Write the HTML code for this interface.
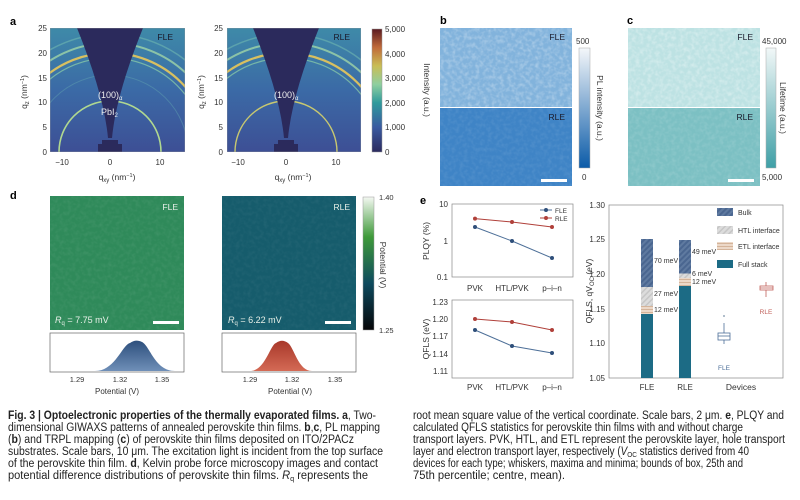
<!DOCTYPE html>
<html><head><meta charset="utf-8"><style>
html,body{margin:0;padding:0;background:#fff;}
svg{display:block;font-family:"Liberation Sans",sans-serif;}
</style></head><body>
<svg width="800" height="500" viewBox="0 0 800 500" xmlns="http://www.w3.org/2000/svg">
<defs>
<linearGradient id="gbg" x1="0" y1="1" x2="0" y2="0">
<stop offset="0" stop-color="#3d4f95"/><stop offset="0.5" stop-color="#3b6aa6"/><stop offset="1" stop-color="#3e8aa8"/>
</linearGradient>
<linearGradient id="cba" x1="0" y1="1" x2="0" y2="0">
<stop offset="0" stop-color="#2b2a5e"/><stop offset="0.2" stop-color="#3a5aa0"/><stop offset="0.4" stop-color="#2f9a9c"/><stop offset="0.55" stop-color="#8fcf9f"/><stop offset="0.7" stop-color="#c9bd55"/><stop offset="0.85" stop-color="#c06a3a"/><stop offset="1" stop-color="#5a1a20"/>
</linearGradient>
<linearGradient id="cbb" x1="0" y1="1" x2="0" y2="0"><stop offset="0" stop-color="#0b5ba8"/><stop offset="1" stop-color="#f4f7fa"/></linearGradient>
<linearGradient id="cbc" x1="0" y1="1" x2="0" y2="0"><stop offset="0" stop-color="#3f9fa6"/><stop offset="1" stop-color="#f2f8f8"/></linearGradient>
<linearGradient id="cbd" x1="0" y1="1" x2="0" y2="0"><stop offset="0" stop-color="#050608"/><stop offset="0.35" stop-color="#0e4a5e"/><stop offset="0.7" stop-color="#3f9a3a"/><stop offset="1" stop-color="#f4f8f2"/></linearGradient>
<linearGradient id="hb" x1="0" y1="0" x2="0" y2="1"><stop offset="0" stop-color="#2d4f7c"/><stop offset="1" stop-color="#6f8fb8"/></linearGradient>
<linearGradient id="hr" x1="0" y1="0" x2="0" y2="1"><stop offset="0" stop-color="#a8382a"/><stop offset="1" stop-color="#d46a55"/></linearGradient>
<pattern id="pBulk" width="4" height="4" patternUnits="userSpaceOnUse" patternTransform="rotate(45)"><rect width="4" height="4" fill="#5f7aa0"/><rect width="2" height="4" fill="#4a6690"/></pattern>
<pattern id="pHTL" width="4" height="4" patternUnits="userSpaceOnUse" patternTransform="rotate(45)"><rect width="4" height="4" fill="#dcdcdc"/><rect width="1.5" height="4" fill="#c6c6c6"/></pattern>
<pattern id="pETL" width="4" height="3" patternUnits="userSpaceOnUse"><rect width="4" height="3" fill="#ecd8c8"/><rect width="4" height="1" fill="#d4b49a"/></pattern>
<filter id="noise" x="0" y="0" width="100%" height="100%"><feTurbulence type="fractalNoise" baseFrequency="0.25" numOctaves="2" seed="3"/><feColorMatrix type="matrix" values="0 0 0 0 1  0 0 0 0 1  0 0 0 0 1  0 0 0 0.9 -0.35"/><feComposite in2="SourceGraphic" operator="in"/></filter>
<clipPath id="ca1"><rect x="50" y="28" width="135" height="124"/></clipPath>
<clipPath id="ca2"><rect x="227" y="28" width="134" height="124"/></clipPath>
</defs>

<!-- Panel a -->
<text x="10" y="25" font-size="11" font-weight="bold">a</text>
<g font-size="8" fill="#333">
<g clip-path="url(#ca1)">
<rect x="50" y="28" width="135" height="124" fill="url(#gbg)"/>
<g fill="none">
<ellipse cx="110" cy="152" rx="120" ry="118" stroke="#6fb8b0" stroke-width="1.5" opacity="0.6"/>
<ellipse cx="110" cy="152" rx="110" ry="109" stroke="#9fd4a8" stroke-width="2" opacity="0.8"/>
<ellipse cx="110" cy="152" rx="100" ry="99" stroke="#d8c060" stroke-width="2.2"/>
<ellipse cx="110" cy="152" rx="95" ry="94" stroke="#8fd0a8" stroke-width="1.2" opacity="0.7"/>
<ellipse cx="110" cy="152" rx="78" ry="77" stroke="#5fa0b0" stroke-width="1" opacity="0.5"/>
<ellipse cx="110" cy="152" rx="51" ry="51" stroke="#b0d890" stroke-width="1.6"/>
</g>
<path d="M77,28 Q104,95 108,138 L112,138 Q116,95 143,28 Z" fill="#2b2a5c"/>
<path d="M98,152 L98,144 L102,144 L102,140 L118,140 L118,144 L122,144 L122,152 Z" fill="#2b2a5c"/>
<rect x="50" y="28" width="135" height="124" fill="none" stroke="#999" stroke-width="0.6"/>
</g>
<text x="173" y="40" text-anchor="end" font-size="8.5" fill="#1a1a2a">FLE</text>
<text x="98" y="98" font-size="9" fill="#eee">(100)<tspan font-size="6" dy="2">α</tspan></text>
<text x="101" y="115" font-size="9" fill="#eee">PbI<tspan font-size="6" dy="2">2</tspan></text>
<g text-anchor="end">
<text x="47" y="31">25</text><text x="47" y="56">20</text><text x="47" y="81">15</text><text x="47" y="105">10</text><text x="47" y="130">5</text><text x="47" y="155">0</text>
</g>
<g text-anchor="middle">
<text x="62" y="165">−10</text><text x="110" y="165">0</text><text x="160" y="165">10</text>
<text x="117" y="180" font-size="8.5">q<tspan font-size="6" dy="2">xy</tspan><tspan dy="-2"> (nm</tspan><tspan font-size="5.5" dy="-3">−1</tspan><tspan dy="3">)</tspan></text>
</g>
<text transform="translate(27,92) rotate(-90)" text-anchor="middle" font-size="8.5">q<tspan font-size="6" dy="2">z</tspan><tspan dy="-2"> (nm</tspan><tspan font-size="5.5" dy="-3">−1</tspan><tspan dy="3">)</tspan></text>

<g clip-path="url(#ca2)">
<rect x="227" y="28" width="134" height="124" fill="url(#gbg)"/>
<g fill="none">
<ellipse cx="286" cy="152" rx="120" ry="118" stroke="#6fb8b0" stroke-width="1.5" opacity="0.6"/>
<ellipse cx="286" cy="152" rx="110" ry="109" stroke="#9fd4a8" stroke-width="2" opacity="0.8"/>
<ellipse cx="286" cy="152" rx="100" ry="99" stroke="#d8c060" stroke-width="2.2"/>
<ellipse cx="286" cy="152" rx="95" ry="94" stroke="#8fd0a8" stroke-width="1.2" opacity="0.7"/>
<ellipse cx="286" cy="152" rx="51" ry="51" stroke="#c8c870" stroke-width="1.4"/>
</g>
<path d="M253,28 Q280,95 284,138 L288,138 Q292,95 319,28 Z" fill="#2b2a5c"/>
<path d="M274,152 L274,144 L278,144 L278,140 L294,140 L294,144 L298,144 L298,152 Z" fill="#2b2a5c"/>
<rect x="227" y="28" width="134" height="124" fill="none" stroke="#999" stroke-width="0.6"/>
</g>
<text x="350" y="40" text-anchor="end" font-size="8.5" fill="#1a1a2a">RLE</text>
<text x="274" y="98" font-size="9" fill="#eee">(100)<tspan font-size="6" dy="2">α</tspan></text>
<g text-anchor="end">
<text x="223" y="31">25</text><text x="223" y="56">20</text><text x="223" y="81">15</text><text x="223" y="105">10</text><text x="223" y="130">5</text><text x="223" y="155">0</text>
</g>
<g text-anchor="middle">
<text x="238" y="165">−10</text><text x="286" y="165">0</text><text x="336" y="165">10</text>
<text x="293" y="180" font-size="8.5">q<tspan font-size="6" dy="2">xy</tspan><tspan dy="-2"> (nm</tspan><tspan font-size="5.5" dy="-3">−1</tspan><tspan dy="3">)</tspan></text>
</g>
<text transform="translate(204,92) rotate(-90)" text-anchor="middle" font-size="8.5">q<tspan font-size="6" dy="2">z</tspan><tspan dy="-2"> (nm</tspan><tspan font-size="5.5" dy="-3">−1</tspan><tspan dy="3">)</tspan></text>

<rect x="372" y="29" width="10" height="123" fill="url(#cba)" stroke="#999" stroke-width="0.5"/>
<text x="385" y="32">5,000</text><text x="385" y="57">4,000</text><text x="385" y="81">3,000</text><text x="385" y="106">2,000</text><text x="385" y="130">1,000</text><text x="385" y="155">0</text>
<text transform="translate(424,90) rotate(90)" text-anchor="middle" font-size="8.5">Intensity (a.u.)</text>
</g>

<!-- Panel b -->
<text x="440" y="24" font-size="11" font-weight="bold">b</text>
<rect x="440" y="28" width="132" height="79" fill="#82b3dc"/>
<rect x="440" y="28" width="132" height="79" fill="#82b3dc" filter="url(#noise)" opacity="0.7"/>
<rect x="440" y="108" width="132" height="78" fill="#3f84c6"/>
<rect x="440" y="108" width="132" height="78" fill="#3f84c6" filter="url(#noise)" opacity="0.2"/>
<text x="565" y="40" text-anchor="end" font-size="8.5" fill="#1a1a2a">FLE</text>
<text x="565" y="120" text-anchor="end" font-size="8.5" fill="#1a1a2a">RLE</text>
<rect x="541" y="179" width="26" height="3" fill="#fff"/>
<rect x="579" y="48" width="11" height="120" fill="url(#cbb)" stroke="#aaa" stroke-width="0.5"/>
<text x="576" y="44" font-size="8" fill="#333">500</text>
<text x="582" y="180" font-size="8" fill="#333">0</text>
<text transform="translate(597,108) rotate(90)" text-anchor="middle" font-size="8.5" fill="#333">PL intensity (a.u.)</text>

<!-- Panel c -->
<text x="627" y="24" font-size="11" font-weight="bold">c</text>
<rect x="628" y="28" width="132" height="79" fill="#bde2e3"/>
<rect x="628" y="28" width="132" height="79" fill="#bde2e3" filter="url(#noise)" opacity="0.8"/>
<rect x="628" y="108" width="132" height="78" fill="#7cc0c3"/>
<rect x="628" y="108" width="132" height="78" fill="#7cc0c3" filter="url(#noise)" opacity="0.3"/>
<text x="753" y="40" text-anchor="end" font-size="8.5" fill="#1a1a2a">FLE</text>
<text x="753" y="120" text-anchor="end" font-size="8.5" fill="#1a1a2a">RLE</text>
<rect x="728" y="179" width="26" height="3" fill="#fff"/>
<rect x="766" y="48" width="10" height="120" fill="url(#cbc)" stroke="#aaa" stroke-width="0.5"/>
<text x="762" y="44" font-size="8" fill="#333">45,000</text>
<text x="762" y="180" font-size="8" fill="#333">5,000</text>
<text transform="translate(780,108) rotate(90)" text-anchor="middle" font-size="8.5" fill="#333">Lifetime (a.u.)</text>

<!-- Panel d -->
<text x="10" y="199" font-size="11" font-weight="bold">d</text>
<rect x="50" y="196" width="134" height="134" fill="#2f8a5a"/>
<rect x="50" y="196" width="134" height="134" fill="#2f8a5a" filter="url(#noise)" opacity="0.15"/>
<rect x="222" y="196" width="134" height="134" fill="#165c6c"/>
<rect x="222" y="196" width="134" height="134" fill="#165c6c" filter="url(#noise)" opacity="0.1"/>
<text x="178" y="210" text-anchor="end" font-size="8.5" fill="#e8f0e8">FLE</text>
<text x="350" y="210" text-anchor="end" font-size="8.5" fill="#e8f0e8">RLE</text>
<text x="55" y="323" font-size="9" fill="#e8f0e8"><tspan font-style="italic">R</tspan><tspan font-size="6" dy="2">q</tspan><tspan dy="-2"> = 7.75 mV</tspan></text>
<text x="228" y="323" font-size="9" fill="#e8f0e8"><tspan font-style="italic">R</tspan><tspan font-size="6" dy="2">q</tspan><tspan dy="-2"> = 6.22 mV</tspan></text>
<rect x="153" y="321" width="26" height="3" fill="#fff"/>
<rect x="325" y="321" width="26" height="3" fill="#fff"/>
<rect x="363" y="197" width="11" height="133" fill="url(#cbd)" stroke="#999" stroke-width="0.5"/>
<g font-size="7.5" fill="#333">
<text x="379" y="200">1.40</text><text x="379" y="333">1.25</text>
<text transform="translate(380,265) rotate(90)" text-anchor="middle" font-size="8.5">Potential (V)</text>
</g>
<rect x="50" y="333" width="134" height="39" fill="#fff" stroke="#666" stroke-width="0.7"/>
<rect x="222" y="333" width="134" height="39" fill="#fff" stroke="#666" stroke-width="0.7"/>
<path d="M95,371 C115,371 122,345 130,343 C134,340 138,340 142,342 C150,346 155,371 175,371 Z" fill="url(#hb)"/>
<path d="M250,371 C265,371 270,345 276,343 C280,340 284,340 288,343 C294,347 298,371 312,371 Z" fill="url(#hr)"/>
<g font-size="7.5" fill="#333" text-anchor="middle">
<text x="77" y="382">1.29</text><text x="120" y="382">1.32</text><text x="162" y="382">1.35</text>
<text x="117" y="394" font-size="8">Potential (V)</text>
<text x="250" y="382">1.29</text><text x="292" y="382">1.32</text><text x="335" y="382">1.35</text>
<text x="290" y="394" font-size="8">Potential (V)</text>
</g>

<!-- Panel e -->
<text x="420" y="204" font-size="11" font-weight="bold">e</text>
<g font-size="8" fill="#333">
<rect x="452" y="204" width="121" height="73" fill="none" stroke="#888" stroke-width="0.7"/>
<g text-anchor="end"><text x="448" y="207">10</text><text x="448" y="244">1</text><text x="448" y="280">0.1</text></g>
<polyline points="475,218.6 512,222 552,227" fill="none" stroke="#b0403a" stroke-width="1"/>
<polyline points="475,227 512,241 552,258" fill="none" stroke="#4d6f98" stroke-width="1"/>
<g fill="#b0403a"><circle cx="475" cy="218.6" r="2"/><circle cx="512" cy="222" r="2"/><circle cx="552" cy="227" r="2"/></g>
<g fill="#2f4f7a"><circle cx="475" cy="227" r="2"/><circle cx="512" cy="241" r="2"/><circle cx="552" cy="258" r="2"/></g>
<line x1="540" y1="210" x2="552" y2="210" stroke="#4d6f98"/><circle cx="546" cy="210" r="2" fill="#2f4f7a"/><text x="555" y="213" font-size="6.5">FLE</text>
<line x1="540" y1="218" x2="552" y2="218" stroke="#b0403a"/><circle cx="546" cy="218" r="2" fill="#b0403a"/><text x="555" y="221" font-size="6.5">RLE</text>
<g text-anchor="middle"><text x="475" y="291">PVK</text><text x="512" y="291">HTL/PVK</text><text x="552" y="291">p–i–n</text></g>
<text transform="translate(429,241) rotate(-90)" text-anchor="middle" font-size="8.5">PLQY (%)</text>

<rect x="452" y="300" width="121" height="78" fill="none" stroke="#888" stroke-width="0.7"/>
<g text-anchor="end"><text x="448" y="305">1.23</text><text x="448" y="322">1.20</text><text x="448" y="339">1.17</text><text x="448" y="357">1.14</text><text x="448" y="374">1.11</text></g>
<polyline points="475,319 512,322 552,330" fill="none" stroke="#b0403a" stroke-width="1"/>
<polyline points="475,330 512,346 552,353" fill="none" stroke="#4d6f98" stroke-width="1"/>
<g fill="#b0403a"><circle cx="475" cy="319" r="2"/><circle cx="512" cy="322" r="2"/><circle cx="552" cy="330" r="2"/></g>
<g fill="#2f4f7a"><circle cx="475" cy="330" r="2"/><circle cx="512" cy="346" r="2"/><circle cx="552" cy="353" r="2"/></g>
<g text-anchor="middle"><text x="475" y="390">PVK</text><text x="512" y="390">HTL/PVK</text><text x="552" y="390">p–i–n</text></g>
<text transform="translate(429,339) rotate(-90)" text-anchor="middle" font-size="8.5">QFLS (eV)</text>

<rect x="609" y="205" width="174" height="173" fill="none" stroke="#888" stroke-width="0.7"/>
<g text-anchor="end"><text x="605" y="208">1.30</text><text x="605" y="242">1.25</text><text x="605" y="277">1.20</text><text x="605" y="312">1.15</text><text x="605" y="346">1.10</text><text x="605" y="381">1.05</text></g>
<text transform="translate(592,291) rotate(-90)" text-anchor="middle" font-size="8.5">QFLS, qV<tspan font-size="6" dy="2">OC</tspan><tspan dy="-2"> (eV)</tspan></text>
<rect x="641" y="314" width="12" height="64" fill="#1c6b85"/>
<rect x="641" y="306" width="12" height="8" fill="url(#pETL)"/>
<rect x="641" y="287" width="12" height="19" fill="url(#pHTL)"/>
<rect x="641" y="239" width="12" height="48" fill="url(#pBulk)"/>
<rect x="679" y="286" width="12" height="92" fill="#1c6b85"/>
<rect x="679" y="278" width="12" height="8" fill="url(#pETL)"/>
<rect x="679" y="273.5" width="12" height="4.5" fill="url(#pHTL)"/>
<rect x="679" y="240" width="12" height="33.5" fill="url(#pBulk)"/>
<g font-size="7">
<text x="654" y="263">70 meV</text><text x="654" y="296">27 meV</text><text x="654" y="312">12 meV</text>
<text x="692" y="254">49 meV</text><text x="692" y="276">6 meV</text><text x="692" y="284">12 meV</text>
</g>
<rect x="717" y="208" width="16" height="8" fill="url(#pBulk)"/><text x="738" y="215" font-size="7">Bulk</text>
<rect x="717" y="226" width="16" height="8" fill="url(#pHTL)"/><text x="738" y="233" font-size="7">HTL interface</text>
<rect x="717" y="242" width="16" height="8" fill="url(#pETL)"/><text x="738" y="249" font-size="7">ETL interface</text>
<rect x="717" y="260" width="16" height="8" fill="#1c6b85"/><text x="738" y="267" font-size="7">Full stack</text>
<g stroke="#4d6f98" stroke-width="0.8" fill="none">
<line x1="724" y1="323" x2="724" y2="333"/><line x1="724" y1="340" x2="724" y2="344"/>
<rect x="718" y="333" width="12" height="7"/><line x1="718" y1="336" x2="730" y2="336"/>
</g>
<circle cx="724" cy="316" r="1" fill="#9ab"/>
<text x="724" y="370" text-anchor="middle" font-size="6.5" fill="#4d6f98">FLE</text>
<g stroke="#c0605a" stroke-width="0.8" fill="none">
<line x1="766" y1="282" x2="766" y2="286"/><line x1="766" y1="290" x2="766" y2="297"/>
<rect x="760" y="286" width="13" height="4"/><line x1="760" y1="288" x2="773" y2="288"/>
</g>
<text x="766" y="314" text-anchor="middle" font-size="6.5" fill="#c0605a">RLE</text>
<g text-anchor="middle"><text x="647" y="390">FLE</text><text x="685" y="390">RLE</text><text x="741" y="390" font-size="8.5">Devices</text></g>
</g>

<!-- caption -->
<g font-size="11.5" fill="#222">
<text x="8" y="419" textLength="368" lengthAdjust="spacingAndGlyphs"><tspan font-weight="bold">Fig. 3 | Optoelectronic properties of the thermally evaporated films. a</tspan>, Two-</text>
<text x="8" y="431" textLength="372" lengthAdjust="spacingAndGlyphs">dimensional GIWAXS patterns of annealed perovskite thin films. <tspan font-weight="bold">b</tspan>,<tspan font-weight="bold">c</tspan>, PL mapping</text>
<text x="8" y="443" textLength="346" lengthAdjust="spacingAndGlyphs">(<tspan font-weight="bold">b</tspan>) and TRPL mapping (<tspan font-weight="bold">c</tspan>) of perovskite thin films deposited on ITO/2PACz</text>
<text x="8" y="455" textLength="375" lengthAdjust="spacingAndGlyphs">substrates. Scale bars, 10 μm. The excitation light is incident from the top surface</text>
<text x="8" y="467" textLength="370" lengthAdjust="spacingAndGlyphs">of the perovskite thin film. <tspan font-weight="bold">d</tspan>, Kelvin probe force microscopy images and contact</text>
<text x="8" y="479" textLength="360" lengthAdjust="spacingAndGlyphs">potential difference distributions of perovskite thin films. <tspan font-style="italic">R</tspan><tspan font-size="7.5" dy="2">q</tspan><tspan dy="-2"> represents the</tspan></text>
<text x="413" y="419" textLength="371" lengthAdjust="spacingAndGlyphs">root mean square value of the vertical coordinate. Scale bars, 2 μm. <tspan font-weight="bold">e</tspan>, PLQY and</text>
<text x="413" y="431" textLength="330" lengthAdjust="spacingAndGlyphs">calculated QFLS statistics for perovskite thin films with and without charge</text>
<text x="413" y="443" textLength="372" lengthAdjust="spacingAndGlyphs">transport layers. PVK, HTL, and ETL represent the perovskite layer, hole transport</text>
<text x="413" y="455" textLength="336" lengthAdjust="spacingAndGlyphs">layer and electron transport layer, respectively (<tspan font-style="italic">V</tspan><tspan font-size="7.5" dy="2">OC</tspan><tspan dy="-2"> statistics derived from 40</tspan></text>
<text x="413" y="467" textLength="330" lengthAdjust="spacingAndGlyphs">devices for each type; whiskers, maxima and minima; bounds of box, 25th and</text>
<text x="413" y="479" textLength="152" lengthAdjust="spacingAndGlyphs">75th percentile; centre, mean).</text>
</g>
</svg>
</body></html>
